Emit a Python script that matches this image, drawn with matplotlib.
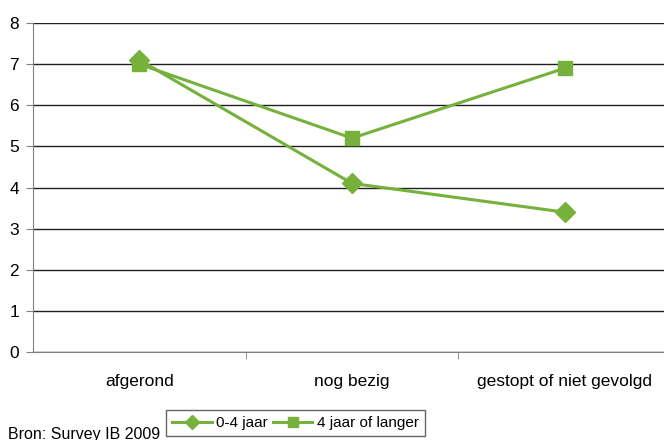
import matplotlib
matplotlib.use("Agg")
import matplotlib.pyplot as plt

categories = ["afgerond", "nog bezig", "gestopt of niet gevolgd"]
short_term = [7.1, 4.1, 3.4]
long_term = [7.0, 5.2, 6.9]
green = "#76b13c"

plt.rcParams['font.family'] = ['Liberation Sans', 'DejaVu Sans']

fig = plt.figure(figsize=(6.64, 4.4), dpi=100)
W, H = 664, 440
ax = fig.add_axes([33 / W, 1 - 352 / H, (671 - 33) / W, (352 - 23) / H])

x = [0, 1, 2]
ax.plot(x, short_term, color=green, lw=2.2, marker="D", ms=10, label="0-4 jaar")
ax.plot(x, long_term, color=green, lw=2.2, marker="s", ms=10, label="4 jaar of langer")

ax.set_xlim(-0.5, 2.5)
ax.set_ylim(0, 8)
ax.set_yticks(range(0, 9))
ax.set_xticks(x)
ax.set_xticklabels(categories)
ax.set_xticks([0.5, 1.5], minor=True)
ax.tick_params(axis="x", which="major", length=0, pad=16, labelsize=12.5)
ax.tick_params(axis="x", which="minor", length=5, color="#808080")
ax.tick_params(axis="y", length=5, color="#808080", labelsize=12.5, pad=5)
ax.yaxis.grid(True, color="#202020", lw=1)
ax.set_axisbelow(True)
for s in ["top", "right"]:
    ax.spines[s].set_visible(False)
ax.spines["left"].set_color("#808080")
ax.spines["bottom"].set_color("#808080")

fig.legend(loc="upper left", bbox_to_anchor=(166 / W, 1 - 410 / H), ncol=2,
           frameon=True, fancybox=False, edgecolor="#404040", fontsize=11,
           handlelength=2.6, columnspacing=0.3, handletextpad=0.3,
           borderaxespad=0, borderpad=0.4, markerscale=0.7)
fig.text(8 / W, 1 - 434 / H, "Bron: Survey IB 2009", fontsize=11.5, va="center")

fig.savefig("out.png", dpi=100)
